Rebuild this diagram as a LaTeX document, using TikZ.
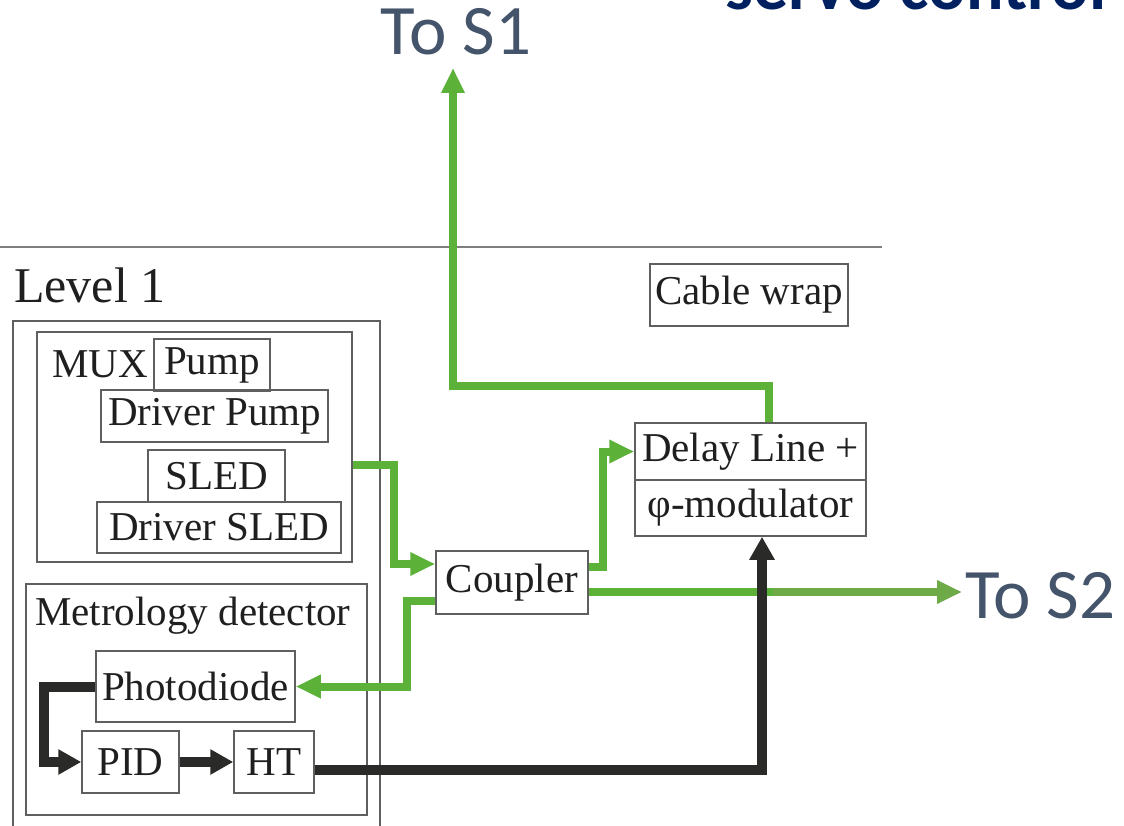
\documentclass[tikz,border=0pt]{standalone}
\usepackage{fontspec}
\setmainfont{Liberation Serif}
\newfontfamily\slidefont{Carlito}
\usepackage{tikz}
\usetikzlibrary{arrows.meta}
\definecolor{fibre}{RGB}{92,178,56}
\definecolor{fibrefade}{RGB}{110,170,72}
\definecolor{wire}{RGB}{42,42,40}
\definecolor{edge}{RGB}{95,95,95}
\definecolor{slidegray}{HTML}{44546A}
\definecolor{slidenavy}{HTML}{002060}

\begin{document}
\begin{tikzpicture}[x=1pt, y=-1pt, every node/.style={inner sep=0pt, text=black!88},
    box/.style={draw=edge, line width=1.5pt, font=\fontsize{41}{45}\selectfont},
    fibreline/.style={draw=fibre, line width=8pt},
    wireline/.style={draw=wire, line width=10pt},
    fibretip/.style={-{Triangle[length=25pt,width=22pt]}},
    wiretip/.style={-{Triangle[length=23pt,width=24pt]}}]
    \useasboundingbox (0,0) rectangle (1124,826);
    \clip (0,0) rectangle (1124,826);

    \node (title) at (725,10) [anchor=base west, text=slidenavy, font=\slidefont\bfseries\fontsize{70}{80}\selectfont] {servo control};
    \node (tosone) at (456,55) [anchor=base, text=slidegray, font=\slidefont\fontsize{71}{80}\selectfont] {To S1};
    \node (tostwo) at (965,618) [anchor=base west, text=slidegray, font=\slidefont\fontsize{71}{80}\selectfont] {To S2};

    \draw[edge!80, line width=2pt] (0,247) -- (882,247);
    \node (lvltitle) at (14,302) [anchor=base west, font=\fontsize{50}{55}\selectfont] {Level 1};
    \node (cable) at (749,295) [box, minimum width=198, minimum height=62] {Cable wrap};

    \node (lvl) at (196.5,580.5) [box, minimum width=367, minimum height=519] {};
    \node (mux) at (194.5,447) [box, minimum width=315, minimum height=230] {};
    \node (muxtitle) at (52,377) [anchor=base west, font=\fontsize{41}{45}\selectfont] {MUX};
    \node (pump) at (212,365) [box, minimum width=116, minimum height=52] {\raisebox{-4pt}{Pump}};
    \node (drvpump) at (214.5,416) [box, minimum width=227, minimum height=52] {Driver Pump};
    \node (sled) at (216.5,476) [box, minimum width=137, minimum height=52] {SLED};
    \node (drvsled) at (219,527.5) [box, minimum width=244, minimum height=51] {Driver SLED};

    \node (met) at (196.5,699.5) [box, minimum width=341, minimum height=231] {};
    \node (mettitle) at (35,625) [anchor=base west, font=\fontsize{41}{45}\selectfont] {Metrology detector};
    \node (photo) at (195.5,686.5) [box, minimum width=199, minimum height=71] {Photodiode};
    \node (pid) at (130.5,762) [box, minimum width=97, minimum height=62] {PID};
    \node (ht) at (274,762) [box, minimum width=80, minimum height=62] {HT};

    \node (coupler) at (512,582.5) [box, minimum width=152, minimum height=63] {Coupler};
    \node (delay) at (750.5,451.5) [box, minimum width=231, minimum height=57] {Delay Line +};
    \node (phimod) at (750.5,508) [box, minimum width=231, minimum height=56] {φ-modulator};

    \coordinate (sone) at (453,68);
    \coordinate (fade) at (773,592);
    \coordinate (stwo) at (962,592);

    \draw[fibreline, fibretip] ([yshift=-18pt]mux.east) -| (394,564) -- ([yshift=18.5pt]coupler.west);
    \draw[fibreline, fibretip] ([yshift=15.5pt]coupler.east) -- ++(14,0) |- (delay.west);
    \draw[fibreline, fibretip] ([xshift=18.5pt]delay.north) -- ++(0,-36) -| (sone);
    \draw[fibreline] ([yshift=-9.5pt]coupler.east) -- (fade);
    \draw[fibreline, draw=fibrefade, fibretip] (fade) -- (stwo);
    \draw[fibreline, fibretip] ([yshift=-18.5pt]coupler.west) -- ++(-28,0) |- (photo.east);

    \draw[wireline, wiretip] (photo.west) -- ++(-51,0) |- (pid.west);
    \draw[wireline, wiretip] (pid.east) -- (ht.west);
    \draw[wireline, wiretip] ([yshift=-8pt]ht.east) -| ([xshift=11.5pt]phimod.south);
\end{tikzpicture}
\end{document}
